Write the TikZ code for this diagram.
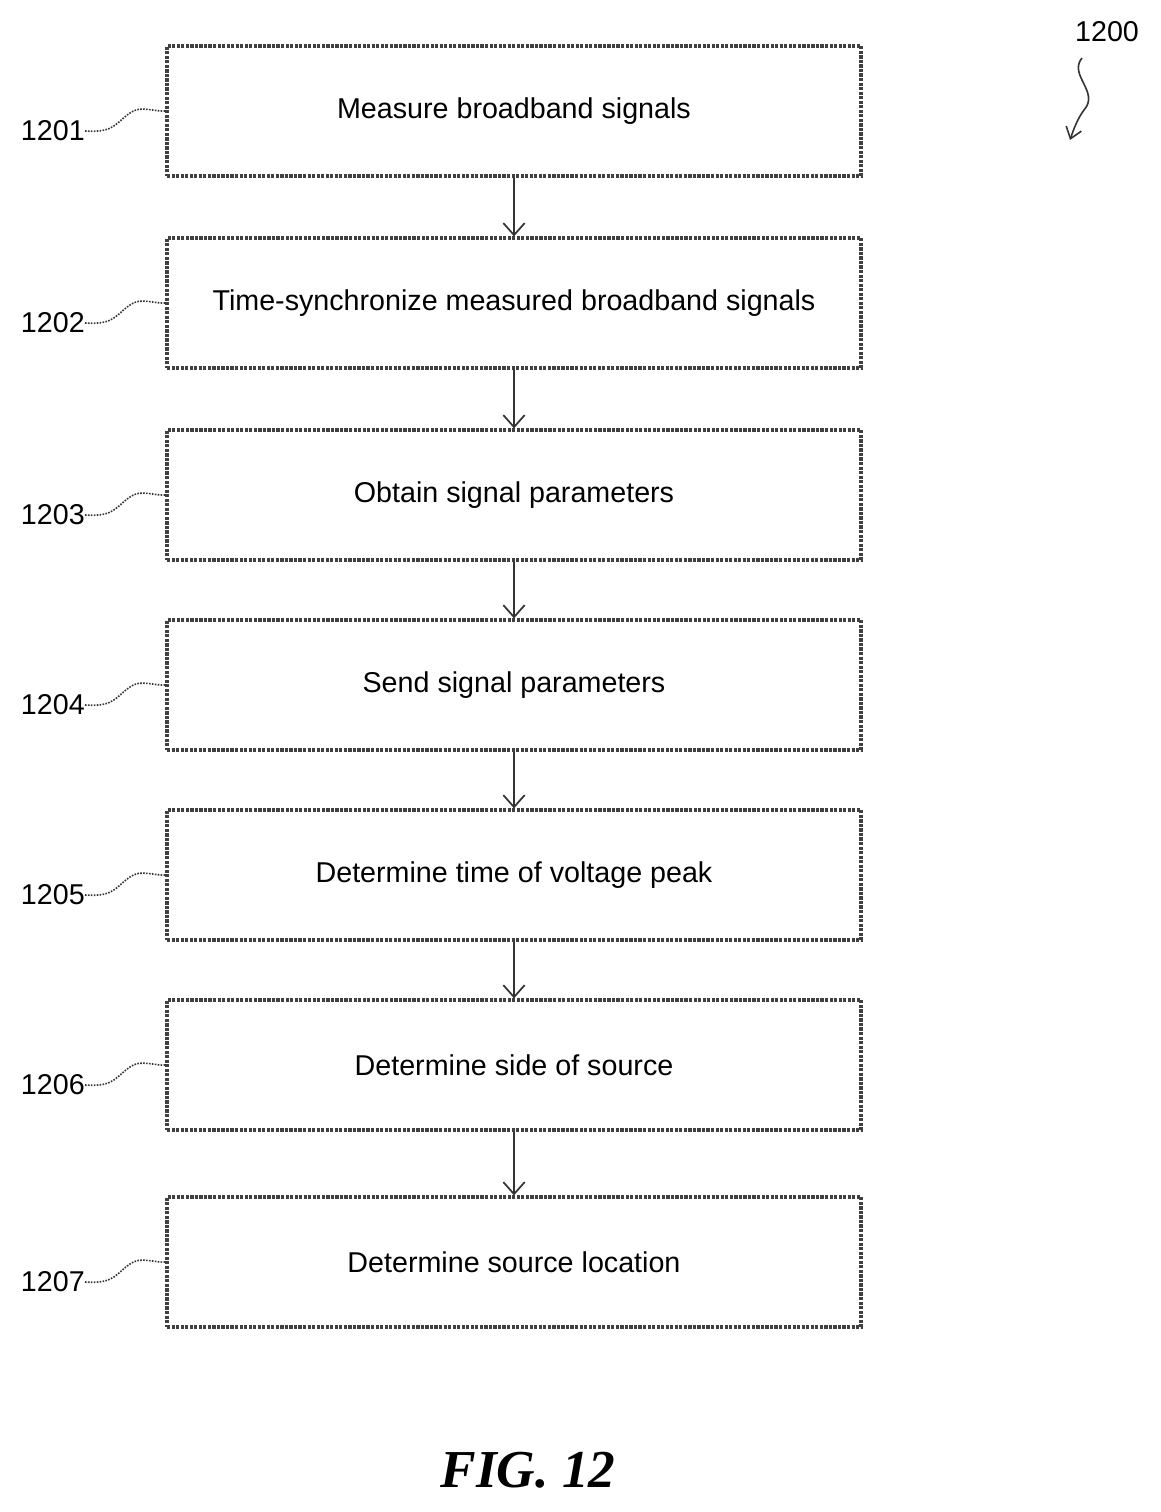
\documentclass[tikz,border=0pt]{standalone}
\usepackage{fontspec}
\setmainfont{Liberation Sans}
\usetikzlibrary{arrows.meta}
\begin{document}
\begin{tikzpicture}[x=0.75pt,y=-0.75pt,
  box/.style={draw=black!75,line width=2.4pt,densely dotted,minimum width=694*0.75pt,minimum height=130*0.75pt,font=\fontsize{21.5}{25}\selectfont,inner sep=0pt},
  lab/.style={font=\fontsize{21.5}{25}\selectfont,anchor=east,inner sep=0pt},
  flow/.style={draw=black!80,line width=1.3pt,-{Straight Barb[length=9pt,width=16pt]}},
  lead/.style={draw=black!80,line width=1.2pt,densely dotted}]
\useasboundingbox (0,0) rectangle (1160,1512);
\foreach \i/\y/\t in {1/111/Measure broadband signals,2/303/Time-synchronize measured broadband signals,3/495/Obtain signal parameters,4/685/Send signal parameters,5/875/Determine time of voltage peak,6/1065/Determine side of source,7/1262/Determine source location}{
  \node[box] (b\i) at (514,\y) {\t};
  \node[lab] (l\i) at (85,\y+20) {120\i};
  \draw[lead] (l\i.east) .. controls (115,\y+22) and (115,\y+12) .. (130,\y+2) .. controls (140,\y-6) and (155,\y+1) .. (b\i.west |- 0,\y);
}
\foreach \a/\b in {1/2,2/3,3/4,4/5,5/6,6/7}{\draw[flow] (b\a.south) -- (b\b.north);}
\node[font=\fontsize{21.5}{25}\selectfont,inner sep=0pt] (n) at (1107,32) {1200};
\coordinate (ne) at (1070,140);
\draw[draw=black!80,line width=1.2pt,-{Straight Barb[length=8pt,width=12pt]}] (1082,58) .. controls (1068,75) and (1100,92) .. (1084,110) .. controls (1078,118) and (1074,128) .. (ne);
\node[inner sep=0pt] (fig) at (528,1470) {\fontspec{Liberation Serif}\fontsize{40}{44}\selectfont\bfseries\itshape FIG. 12};
\end{tikzpicture}
\end{document}
